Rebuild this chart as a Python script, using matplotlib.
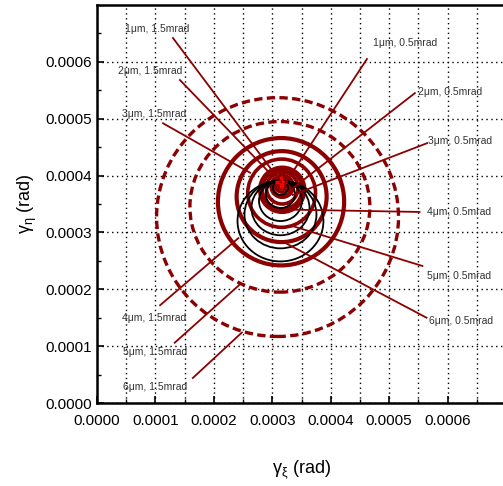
import matplotlib
matplotlib.use("Agg")
import matplotlib.pyplot as plt
from matplotlib.patches import Ellipse
from matplotlib.ticker import MultipleLocator, FormatStrFormatter

plt.rcParams["font.family"] = ["Liberation Sans", "DejaVu Sans"]
plt.rcParams["mathtext.fontset"] = "custom"
plt.rcParams["mathtext.rm"] = "Liberation Sans"
plt.rcParams["mathtext.it"] = "Liberation Sans"

# rings: centre x, centre y, half-width, half-height (rad)
ring_labels_wide = ["1\u03bcm, 1.5mrad", "2\u03bcm, 1.5mrad", "3\u03bcm, 1.5mrad",
                    "4\u03bcm, 1.5mrad", "5\u03bcm, 1.5mrad", "6\u03bcm, 1.5mrad"]
wide_cx = [3.17e-4, 3.17e-4, 3.16e-4, 3.15e-4, 3.13e-4, 3.09e-4]
wide_cy = [3.81e-4, 3.75e-4, 3.63e-4, 3.54e-4, 3.45e-4, 3.27e-4]
wide_rx = [0.17e-4, 0.38e-4, 0.77e-4, 1.08e-4, 1.54e-4, 2.07e-4]
wide_ry = [0.18e-4, 0.39e-4, 0.80e-4, 1.12e-4, 1.50e-4, 2.10e-4]

ring_labels_narrow = ["1\u03bcm, 0.5mrad", "2\u03bcm, 0.5mrad", "3\u03bcm, 0.5mrad",
                      "4\u03bcm, 0.5mrad", "5\u03bcm, 0.5mrad", "6\u03bcm, 0.5mrad"]
narrow_cx = [3.17e-4, 3.17e-4, 3.17e-4, 3.17e-4, 3.17e-4, 3.16e-4]
narrow_cy = [3.84e-4, 3.83e-4, 3.81e-4, 3.78e-4, 3.76e-4, 3.69e-4]
narrow_rx = [0.07e-4, 0.12e-4, 0.19e-4, 0.27e-4, 0.34e-4, 0.58e-4]
narrow_ry = [0.07e-4, 0.12e-4, 0.19e-4, 0.28e-4, 0.35e-4, 0.60e-4]

# black circles, all touching at the top point
black_cx = 3.14e-4
black_top = 3.91e-4
black_d = [0.25e-4, 0.48e-4, 0.71e-4, 0.96e-4, 1.19e-4, 1.42e-4]

# nominal point
nominal_x = [3.15e-4]
nominal_y = [3.89e-4]

# label positions (left, centre) and leader lines
wide_text_xy = [(0.48e-4, 6.57e-4), (0.36e-4, 5.84e-4), (0.43e-4, 5.08e-4),
                (0.43e-4, 1.49e-4), (0.44e-4, 0.90e-4), (0.44e-4, 0.28e-4)]
wide_line_start = [(1.30e-4, 6.42e-4), (1.42e-4, 5.68e-4), (1.13e-4, 4.92e-4),
                   (1.08e-4, 1.72e-4), (1.33e-4, 1.06e-4), (1.64e-4, 0.44e-4)]
wide_line_end = [(3.15e-4, 3.88e-4), (2.98e-4, 4.02e-4), (2.62e-4, 4.05e-4),
                 (2.42e-4, 2.90e-4), (2.45e-4, 2.09e-4), (2.48e-4, 1.24e-4)]
narrow_text_xy = [(4.72e-4, 6.34e-4), (5.49e-4, 5.47e-4), (5.66e-4, 4.60e-4),
                  (5.64e-4, 3.36e-4), (5.64e-4, 2.23e-4), (5.69e-4, 1.45e-4)]
narrow_line_start = [(4.62e-4, 6.05e-4), (5.44e-4, 5.45e-4), (5.65e-4, 4.57e-4),
                     (5.52e-4, 3.36e-4), (5.57e-4, 2.41e-4), (5.64e-4, 1.50e-4)]
narrow_line_end = [(3.20e-4, 3.83e-4), (3.28e-4, 3.72e-4), (3.35e-4, 3.66e-4),
                   (3.35e-4, 3.40e-4), (3.32e-4, 3.12e-4), (3.25e-4, 2.80e-4)]

x_ticks = [0.0, 1e-4, 2e-4, 3e-4, 4e-4, 5e-4, 6e-4]
y_ticks = [0.0, 1e-4, 2e-4, 3e-4, 4e-4, 5e-4, 6e-4]

RED = "#8b0000"

fig = plt.figure(figsize=(5.03, 4.86), dpi=100)
ax = fig.add_axes([97 / 503, 83 / 486, 409 / 503, 398 / 486])
ax.set_xlim(0, 7e-4)
ax.set_ylim(0, 7e-4)

ax.set_xticks(x_ticks)
ax.set_yticks(y_ticks)
ax.xaxis.set_minor_locator(MultipleLocator(0.5e-4))
ax.yaxis.set_minor_locator(MultipleLocator(0.5e-4))
ax.xaxis.set_major_formatter(FormatStrFormatter("%.4f"))
ax.yaxis.set_major_formatter(FormatStrFormatter("%.4f"))
ax.tick_params(which="major", direction="in", length=5, width=1.2, labelsize=11)
ax.tick_params(which="minor", direction="in", length=3, width=1)
ax.tick_params(axis="x", pad=8)
ax.grid(which="major", color="black", linestyle=(0, (1, 2.5)), linewidth=1)
ax.grid(which="minor", axis="x", color="black", linestyle=(0, (1, 2.5)), linewidth=1)
for s in ax.spines.values():
    s.set_linewidth(1.8)
ax.set_axisbelow(True)

for i in range(6):
    if i >= 4:
        ax.add_patch(Ellipse((wide_cx[i], wide_cy[i]), 2 * wide_rx[i], 2 * wide_ry[i],
                             fill=False, edgecolor=RED, lw=2.4,
                             linestyle=(0, (2.5, 1.3)), zorder=3))
    else:
        ax.add_patch(Ellipse((wide_cx[i], wide_cy[i]), 2 * wide_rx[i], 2 * wide_ry[i],
                             fill=False, edgecolor=RED, lw=3, zorder=3))
    ax.add_patch(Ellipse((narrow_cx[i], narrow_cy[i]), 2 * narrow_rx[i], 2 * narrow_ry[i],
                         fill=False, edgecolor=RED, lw=2.6, zorder=3))

for d in black_d:
    ax.add_patch(Ellipse((black_cx, black_top - d / 2), d * 58.5 / 56.5, d,
                         fill=False, edgecolor="black", lw=1.3, zorder=4))

ax.plot(nominal_x, nominal_y, "+", color="red", ms=9, mew=2.5, zorder=5)

for lab, txy, p0, p1 in zip(ring_labels_wide + ring_labels_narrow,
                            wide_text_xy + narrow_text_xy,
                            wide_line_start + narrow_line_start,
                            wide_line_end + narrow_line_end):
    ax.text(txy[0], txy[1], lab, fontsize=7.5, color="#333333", va="center", zorder=6)
    ax.plot([p0[0], p1[0]], [p0[1], p1[1]], color=RED, lw=1.3, zorder=5)

ax.set_xlabel(r"$\gamma_\xi$ (rad)", fontsize=13, labelpad=22)
ax.set_ylabel(r"$\gamma_\eta$ (rad)", fontsize=13, labelpad=5)

fig.savefig("out.png", dpi=100)
